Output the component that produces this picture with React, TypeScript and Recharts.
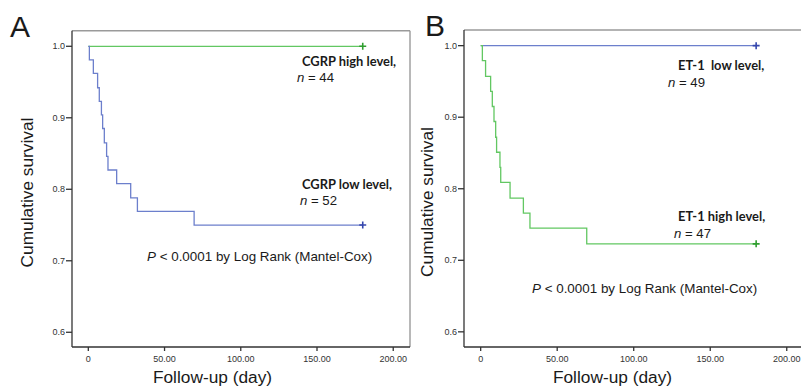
import React from "react";
import {
  ComposedChart,
  Line,
  XAxis,
  YAxis,
  ReferenceLine,
} from "recharts";

// panel A: CGRP
const cgrpLowDays = [0, 0.7, 3.3, 6.1, 7.2, 8.6, 9.4, 10.5, 12.0, 12.9, 18.6, 27.8, 32.2, 69.4, 180];
const cgrpLowSurv = [1, 0.981, 0.962, 0.942, 0.923, 0.904, 0.885, 0.865, 0.846, 0.827, 0.808, 0.788, 0.769, 0.75, 0.75];
const cgrpHighDays = [0, 180];
const cgrpHighSurv = [1, 1];

// panel B: ET-1
const et1HighDays = [0, 1.1, 3.2, 6.5, 7.6, 8.7, 9.8, 10.4, 12.6, 13.1, 19.2, 27.9, 32.2, 69.3, 180];
const et1HighSurv = [1, 0.979, 0.957, 0.936, 0.915, 0.894, 0.872, 0.851, 0.83, 0.809, 0.787, 0.766, 0.745, 0.723, 0.723];
const et1LowDays = [0, 180];
const et1LowSurv = [1, 1];

const xTicks = [0, 50, 100, 150, 200];
const yTicks = [0.6, 0.7, 0.8, 0.9, 1.0];

const GREEN = "#62c762";
const GREEN_MARK = "#2f9e2f";
const BLUE = "#6c7fcc";
const BLUE_MARK = "#3446ad";
const AXIS = "#333";
const FRAME = "#9a9a9a";

const toRows = (days: number[], surv: number[]) =>
  days.map((d, i) => ({ day: d, s: surv[i] }));

function censorDot(color: string, last: number) {
  return (props: any) => {
    const { cx, cy, index } = props;
    if (index !== last) return <g key={`d${index}`} />;
    return (
      <path
        key={`d${index}`}
        d={`M${cx - 3.5},${cy}h7M${cx},${cy - 3.5}v7`}
        stroke={color}
        strokeWidth={1.6}
        fill="none"
      />
    );
  };
}

type PanelProps = {
  left: number;
  width: number;
  margin: { top: number; right: number; bottom: number; left: number };
  xDomain: [number, number];
  yDomain: [number, number];
  step: { day: number; s: number }[];
  flat: { day: number; s: number }[];
  stepColor: string;
  stepMark: string;
  flatColor: string;
  flatMark: string;
};

function Panel(p: PanelProps) {
  return (
    <div style={{ position: "absolute", left: p.left, top: 0 }}>
      <ComposedChart width={p.width} height={387} margin={p.margin}>
        <XAxis
          dataKey="day"
          type="number"
          domain={p.xDomain}
          allowDataOverflow
          ticks={xTicks}
          tickFormatter={(v) => (v === 0 ? "0" : Number(v).toFixed(2))}
          height={40}
          tickSize={4}
          tickMargin={5}
          stroke={AXIS}
          strokeWidth={1.3}
          tick={{ fontSize: 9, fill: "#333", fontFamily: "Liberation Sans, Arial" }}
        />
        <YAxis
          type="number"
          domain={p.yDomain}
          allowDataOverflow
          ticks={yTicks}
          tickFormatter={(v) => Number(v).toFixed(1)}
          width={60}
          tickSize={6}
          tickMargin={1}
          stroke={AXIS}
          strokeWidth={1.3}
          tick={{ fontSize: 9, fill: "#333", fontFamily: "Liberation Sans, Arial" }}
        />
        <ReferenceLine y={p.yDomain[1]} stroke={FRAME} strokeWidth={1.4} />
        <ReferenceLine x={p.xDomain[1]} stroke={FRAME} strokeWidth={1.4} />
        <Line
          data={p.flat}
          dataKey="s"
          type="stepAfter"
          stroke={p.flatColor}
          strokeWidth={1.3}
          dot={censorDot(p.flatMark, p.flat.length - 1)}
          activeDot={false}
          isAnimationActive={false}
        />
        <Line
          data={p.step}
          dataKey="s"
          type="stepAfter"
          stroke={p.stepColor}
          strokeWidth={1.3}
          dot={censorDot(p.stepMark, p.step.length - 1)}
          activeDot={false}
          isAnimationActive={false}
        />
      </ComposedChart>
    </div>
  );
}

const bold = { fontFamily: "Lato, sans-serif", fontWeight: 700, fontSize: 12.9, fill: "#1a1a1a" };
const plain = { fontFamily: "Liberation Sans, Arial, sans-serif", fontSize: 13.2, fill: "#1a1a1a" };
const pval = { ...plain, fontSize: 13.4 };
const title = { fontFamily: "Liberation Sans, Arial, sans-serif", fontSize: 17.3, fill: "#1a1a1a" };

export default function App() {
  return (
    <div
      style={{
        position: "absolute",
        left: 0,
        top: 0,
        width: 801,
        height: 387,
        background: "#fff",
        overflow: "hidden",
      }}
    >
      <Panel
        left={0}
        width={420}
        margin={{ top: 30.7, right: 10, bottom: 0, left: 12 }}
        xDomain={[-10.7, 211]}
        yDomain={[0.5794, 1.0218]}
        step={toRows(cgrpLowDays, cgrpLowSurv)}
        flat={toRows(cgrpHighDays, cgrpHighSurv)}
        stepColor={BLUE}
        stepMark={BLUE_MARK}
        flatColor={GREEN}
        flatMark={GREEN_MARK}
      />
      <Panel
        left={400}
        width={420}
        margin={{ top: 30, right: 8, bottom: 0, left: 4 }}
        xDomain={[-10.9, 216.5]}
        yDomain={[0.5788, 1.0219]}
        step={toRows(et1HighDays, et1HighSurv)}
        flat={toRows(et1LowDays, et1LowSurv)}
        stepColor={GREEN}
        stepMark={GREEN_MARK}
        flatColor={BLUE}
        flatMark={BLUE_MARK}
      />
      <svg
        width={801}
        height={387}
        style={{ position: "absolute", left: 0, top: 0, pointerEvents: "none" }}
      >
        <text x={10} y={37} style={{ ...title, fontSize: 30 }}>A</text>
        <text x={425} y={36} style={{ ...title, fontSize: 30 }}>B</text>

        <text x={302} y={65.5} style={bold}>CGRP high level,</text>
        <text x={297} y={81.7} style={plain}>
          <tspan fontStyle="italic">n</tspan> = 44
        </text>
        <text x={302} y={189} style={bold}>CGRP low level,</text>
        <text x={300} y={205} style={plain}>
          <tspan fontStyle="italic">n</tspan> = 52
        </text>
        <text x={147} y={260.5} style={pval}>
          <tspan fontStyle="italic">P</tspan> &lt; 0.0001 by Log Rank (Mantel-Cox)
        </text>

        <text x={678} y={70} style={bold} xmlSpace="preserve">ET-1  low level,</text>
        <text x={668} y={86.5} style={plain}>
          <tspan fontStyle="italic">n</tspan> = 49
        </text>
        <text x={678} y={220.5} style={bold}>ET-1 high level,</text>
        <text x={674} y={238} style={plain}>
          <tspan fontStyle="italic">n</tspan> = 47
        </text>
        <text x={532} y={292.5} style={pval}>
          <tspan fontStyle="italic">P</tspan> &lt; 0.0001 by Log Rank (Mantel-Cox)
        </text>

        <text x={212.5} y={382.5} textAnchor="middle" style={title}>Follow-up (day)</text>
        <text x={612.5} y={382.5} textAnchor="middle" style={title}>Follow-up (day)</text>
        <text
          x={0}
          y={0}
          textAnchor="middle"
          transform="translate(33.3,192.5) rotate(-90)"
          style={title}
        >
          Cumulative survival
        </text>
        <text
          x={0}
          y={0}
          textAnchor="middle"
          transform="translate(433.3,202) rotate(-90)"
          style={title}
        >
          Cumulative survival
        </text>
      </svg>
    </div>
  );
}
